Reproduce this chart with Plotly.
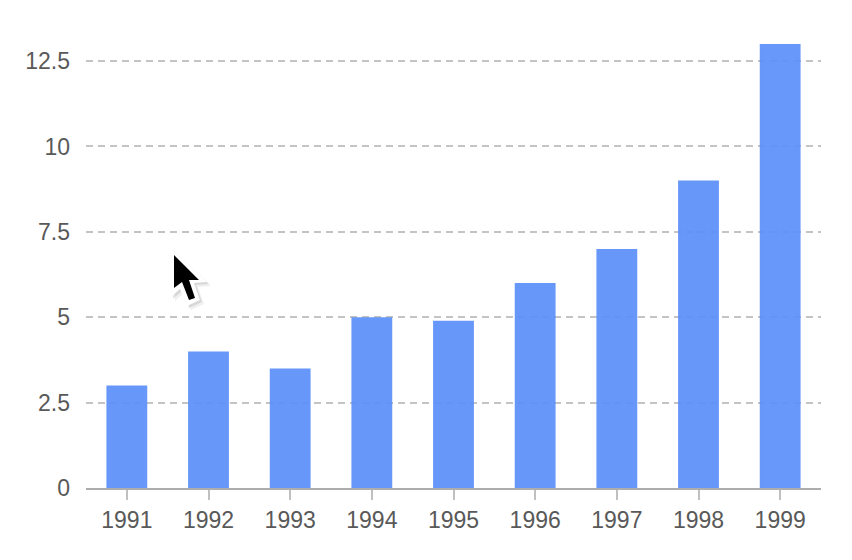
import plotly.graph_objects as go

years = ["1991", "1992", "1993", "1994", "1995", "1996", "1997", "1998", "1999"]
values = [3, 4, 3.5, 5, 4.9, 6, 7, 9, 13]
y_ticks = [0, 2.5, 5, 7.5, 10, 12.5]
y_labels = ["0", "2.5", "5", "7.5", "10", "12.5"]

W, H = 852, 560
L, R, T, B = 86, 31, 44, 72


def px_path(points):
    # Decorative pointer overlay, placed in window pixels
    pw, ph = W - L - R, H - T - B
    parts = []
    for i, (x, y) in enumerate(points):
        parts.append(f"{'M' if i == 0 else 'L'}{(x - L) / pw:.5f},{1 - (y - T) / ph:.5f}")
    return " ".join(parts) + " Z"


arrow = [(174, 255), (199, 280), (189, 280), (195, 298), (189, 300), (182, 282), (174, 288)]
outline = [(171, 248), (207, 282), (194, 283), (200, 300), (187, 306), (180, 289), (171, 297)]
shadow_a = [(x + 2, y + 2) for x, y in outline]
shadow_b = [(x + 4, y + 4) for x, y in outline]

fig = go.Figure(
    go.Bar(x=years, y=values, marker=dict(color="#5B8FF9", line=dict(width=0)), opacity=0.92)
)
fig.update_layout(
    width=W,
    height=H,
    margin=dict(l=L, r=R, t=T, b=B, pad=0),
    paper_bgcolor="white",
    plot_bgcolor="white",
    bargap=0.5,
    showlegend=False,
    font=dict(family="Liberation Sans, Arial, sans-serif", size=23, color="#595959"),
    shapes=[
        dict(type="path", xref="paper", yref="paper", path=px_path(shadow_b),
             fillcolor="rgba(0,0,0,0.06)", line=dict(width=0), layer="above"),
        dict(type="path", xref="paper", yref="paper", path=px_path(shadow_a),
             fillcolor="rgba(0,0,0,0.10)", line=dict(width=0), layer="above"),
        dict(type="path", xref="paper", yref="paper", path=px_path(outline),
             fillcolor="white", line=dict(width=0), layer="above"),
        dict(type="path", xref="paper", yref="paper", path=px_path(arrow),
             fillcolor="black", line=dict(width=0), layer="above"),
    ],
)
fig.update_xaxes(
    type="category",
    showgrid=False,
    showline=True,
    linecolor="#adadad",
    linewidth=2,
    ticks="outside",
    ticklen=10,
    tickwidth=2,
    tickcolor="#c0c0c0",
    zeroline=False,
)
fig.update_yaxes(
    range=[0, 13],
    tickmode="array",
    tickvals=y_ticks,
    ticktext=y_labels,
    showgrid=True,
    gridcolor="#c4c4c4",
    gridwidth=2,
    griddash="7px,5px",
    zeroline=False,
    showline=False,
    ticks="",
    ticklabelstandoff=15,
)
fig.write_html(
    "out.html",
    config={"displayModeBar": False},
    post_script="document.body.style.margin='0';",
)
